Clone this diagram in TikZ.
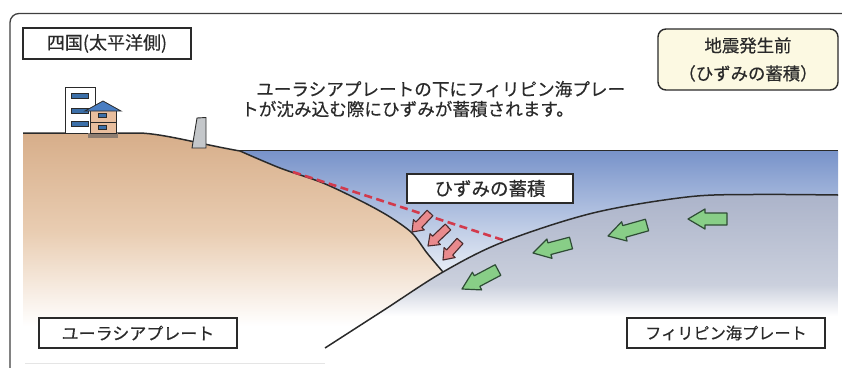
\documentclass[tikz,border=0pt]{standalone}
\usepackage{fontspec}
\usetikzlibrary{calc}
\newfontfamily\jp[FakeBold=0.5]{Noto Sans CJK JP}

\definecolor{inkline}{HTML}{2A2A2A}
\definecolor{landtop}{HTML}{D7AE8A}
\definecolor{landmid}{HTML}{E9CDB2}
\definecolor{seatop}{HTML}{7893CA}
\definecolor{seabot}{HTML}{EBF0F7}
\definecolor{platetop}{HTML}{ACB4CA}
\definecolor{platemid}{HTML}{CBD0DD}
\definecolor{strainred}{HTML}{D23A4C}
\definecolor{redfill}{HTML}{E98A8D}
\definecolor{redline}{HTML}{4A2A2C}
\definecolor{greenfill}{HTML}{88CE87}
\definecolor{greenline}{HTML}{2E4C35}
\definecolor{creambox}{HTML}{FCF9E2}
\definecolor{wallgray}{HTML}{C4C7CA}
\definecolor{roofblue}{HTML}{4A7EC2}
\definecolor{winblue}{HTML}{3C6FA8}
\definecolor{housepeach}{HTML}{E8BE9E}
\definecolor{housebase}{HTML}{8E7D70}

\tikzset{
  label box/.style={draw=inkline, line width=1.4pt, fill=white, inner sep=0pt,
    font=\jp\fontsize{17}{21}\selectfont, text=inkline},
  msg/.style={inner sep=0pt, anchor=west, font=\jp\fontsize{17.6}{22}\selectfont, text=inkline},
  outline/.style={draw=inkline, line width=1.5pt},
  greenarrow/.style={fill=greenfill, draw=greenline, line width=1.2pt, line join=round},
  redarrow/.style={fill=redfill, draw=redline, line width=1.1pt, line join=round},
  window/.style={fill=winblue, draw=inkline, line width=0.6pt},
}

% block arrow: style, tail point, tip point, half body width, half head width, head length
\newcommand\blockarrow[6]{%
  \coordinate (ba-t) at #2;
  \coordinate (ba-p) at #3;
  \coordinate (ba-h) at ($(ba-p)!#6!(ba-t)$);
  \filldraw[#1] ($(ba-t)!#4!90:(ba-p)$) -- ($(ba-h)!#4!90:(ba-p)$)
    -- ($(ba-h)!#5!90:(ba-p)$) -- (ba-p) -- ($(ba-h)!#5!-90:(ba-p)$)
    -- ($(ba-h)!#4!-90:(ba-p)$) -- ($(ba-t)!#4!-90:(ba-p)$) -- cycle;
}

\begin{document}
\begin{tikzpicture}[x=1pt, y=-1pt]
\useasboundingbox (0,0) rectangle (842,367);

% sea
\shade[top color=seatop, bottom color=seabot] (240,151) rectangle (838,276);

% Philippine Sea plate body
\begin{scope}
  \clip (325,348) -- plot[smooth, tension=0.55] coordinates
    {(325,348) (384,310) (443,272) (503,242) (593,213) (687,197) (753,194.5) (838,195)}
    -- (838,367) -- (325,367) -- cycle;
  \shade[top color=platetop, bottom color=platemid] (300,195) rectangle (838,285);
  \shade[top color=platemid, bottom color=white] (300,285) rectangle (838,316);
\end{scope}

% Eurasian plate body
\begin{scope}
  \clip (23,133) -- (140,133) .. controls (165,134) and (200,144) .. (240,151)
    -- plot[smooth, tension=0.5] coordinates
    {(240,151) (280,168) (323,183) (363,202) (390,217) (412,233) (427,253) (443,272)}
    -- (325,348) -- (23,348) -- cycle;
  \shade[top color=landtop, bottom color=landmid] (23,133) rectangle (450,232);
  \shade[top color=landmid, bottom color=white] (23,232) rectangle (450,326);
\end{scope}

% sea surface
\draw[outline] (240,150.5) -- (838,150.5);

% ground surface and coastline
\draw[outline, line join=round] (23,133) -- (140,133) .. controls (165,134) and (200,144) .. (240,151)
  plot[smooth, tension=0.5] coordinates
  {(240,151) (280,168) (323,183) (363,202) (390,217) (412,233) (427,253) (443,272)};

% top of the subducting plate
\draw[outline] plot[smooth, tension=0.55] coordinates
  {(325,348) (384,310) (443,272) (503,242) (593,213) (687,197) (753,194.5) (838,195)};

% strain boundary
\draw[strainred, line width=2.6pt, dash pattern=on 8pt off 4.5pt] (293,172) -- (503,240);

% seawall
\filldraw[fill=wallgray, draw=inkline, line width=0.9pt] (192,148) -- (197,118) -- (206,117.5) -- (206,148) -- cycle;

% tall building
\filldraw[fill=white, draw=inkline, line width=0.8pt] (65,87) rectangle (95,133);
\filldraw[window] (71,93) rectangle (88,98);
\filldraw[window] (71,108) rectangle (88,113);
\filldraw[window] (71,121) rectangle (88,126);

% house
\filldraw[fill=housebase, draw=housebase] (88,133) rectangle (117,137);
\filldraw[fill=housepeach, draw=inkline, line width=0.8pt] (90,110) rectangle (116,133);
\draw[inkline, line width=0.8pt] (90,122) -- (116,122);
\filldraw[window] (98,113) rectangle (106,117.5);
\filldraw[window] (98,125) rectangle (106,129.5);
\filldraw[fill=roofblue, draw=inkline, line width=0.8pt] (85,111) -- (103,101) -- (121,111) -- cycle;

% plate motion
\blockarrow{greenarrow}{(727,219)}{(688,219)}{6pt}{10pt}{17pt}
\blockarrow{greenarrow}{(647,225)}{(608,236)}{6pt}{10pt}{17pt}
\blockarrow{greenarrow}{(571,243)}{(533,253)}{6pt}{10pt}{17pt}
\blockarrow{greenarrow}{(498,270)}{(462,289)}{6pt}{10pt}{17pt}

% strain pushing down
\blockarrow{redarrow}{(430,213)}{(412,232)}{4pt}{7.5pt}{10pt}
\blockarrow{redarrow}{(448,227)}{(428,246)}{4pt}{7.5pt}{10pt}
\blockarrow{redarrow}{(460,241)}{(443,260)}{4pt}{7.5pt}{10pt}

% outer frame
\draw[draw=inkline!90, line width=1.3pt, rounded corners=9pt] (10,370) -- (10,13.5) -- (845,13.5);
\draw[draw=black!10, line width=0.8pt] (25,363) -- (325,363);

% labels
\node[label box, minimum width=168pt, minimum height=31pt,
  font=\jp\fontsize{18}{22}\selectfont] (region) at (107,43.5) {四国(太平洋側)};
\node[label box, fill=creambox, rounded corners=8pt, minimum width=180pt, minimum height=61pt,
  align=center, font=\jp\fontsize{17.4}{28}\selectfont] (stage) at (748,59.5)
  {地震発生前\\（ひずみの蓄積）};
\node[msg] (msg1) at (256,89) {ユーラシアプレートの下にフィリピン海プレー};
\node[msg] (msg2) at (241,109) {トが沈み込む際にひずみが蓄積されます。};
\node[label box, minimum width=166pt, minimum height=29pt,
  font=\jp\fontsize{18.5}{22}\selectfont] (strain) at (490,188.5) {ひずみの蓄積};
\node[label box, minimum width=198pt, minimum height=30pt] (eurasia) at (138,333) {ユーラシアプレート};
\node[label box, minimum width=198pt, minimum height=30pt,
  font=\jp\fontsize{16.2}{21}\selectfont] (philippine) at (726,333) {フィリピン海プレート};
\end{tikzpicture}
\end{document}
